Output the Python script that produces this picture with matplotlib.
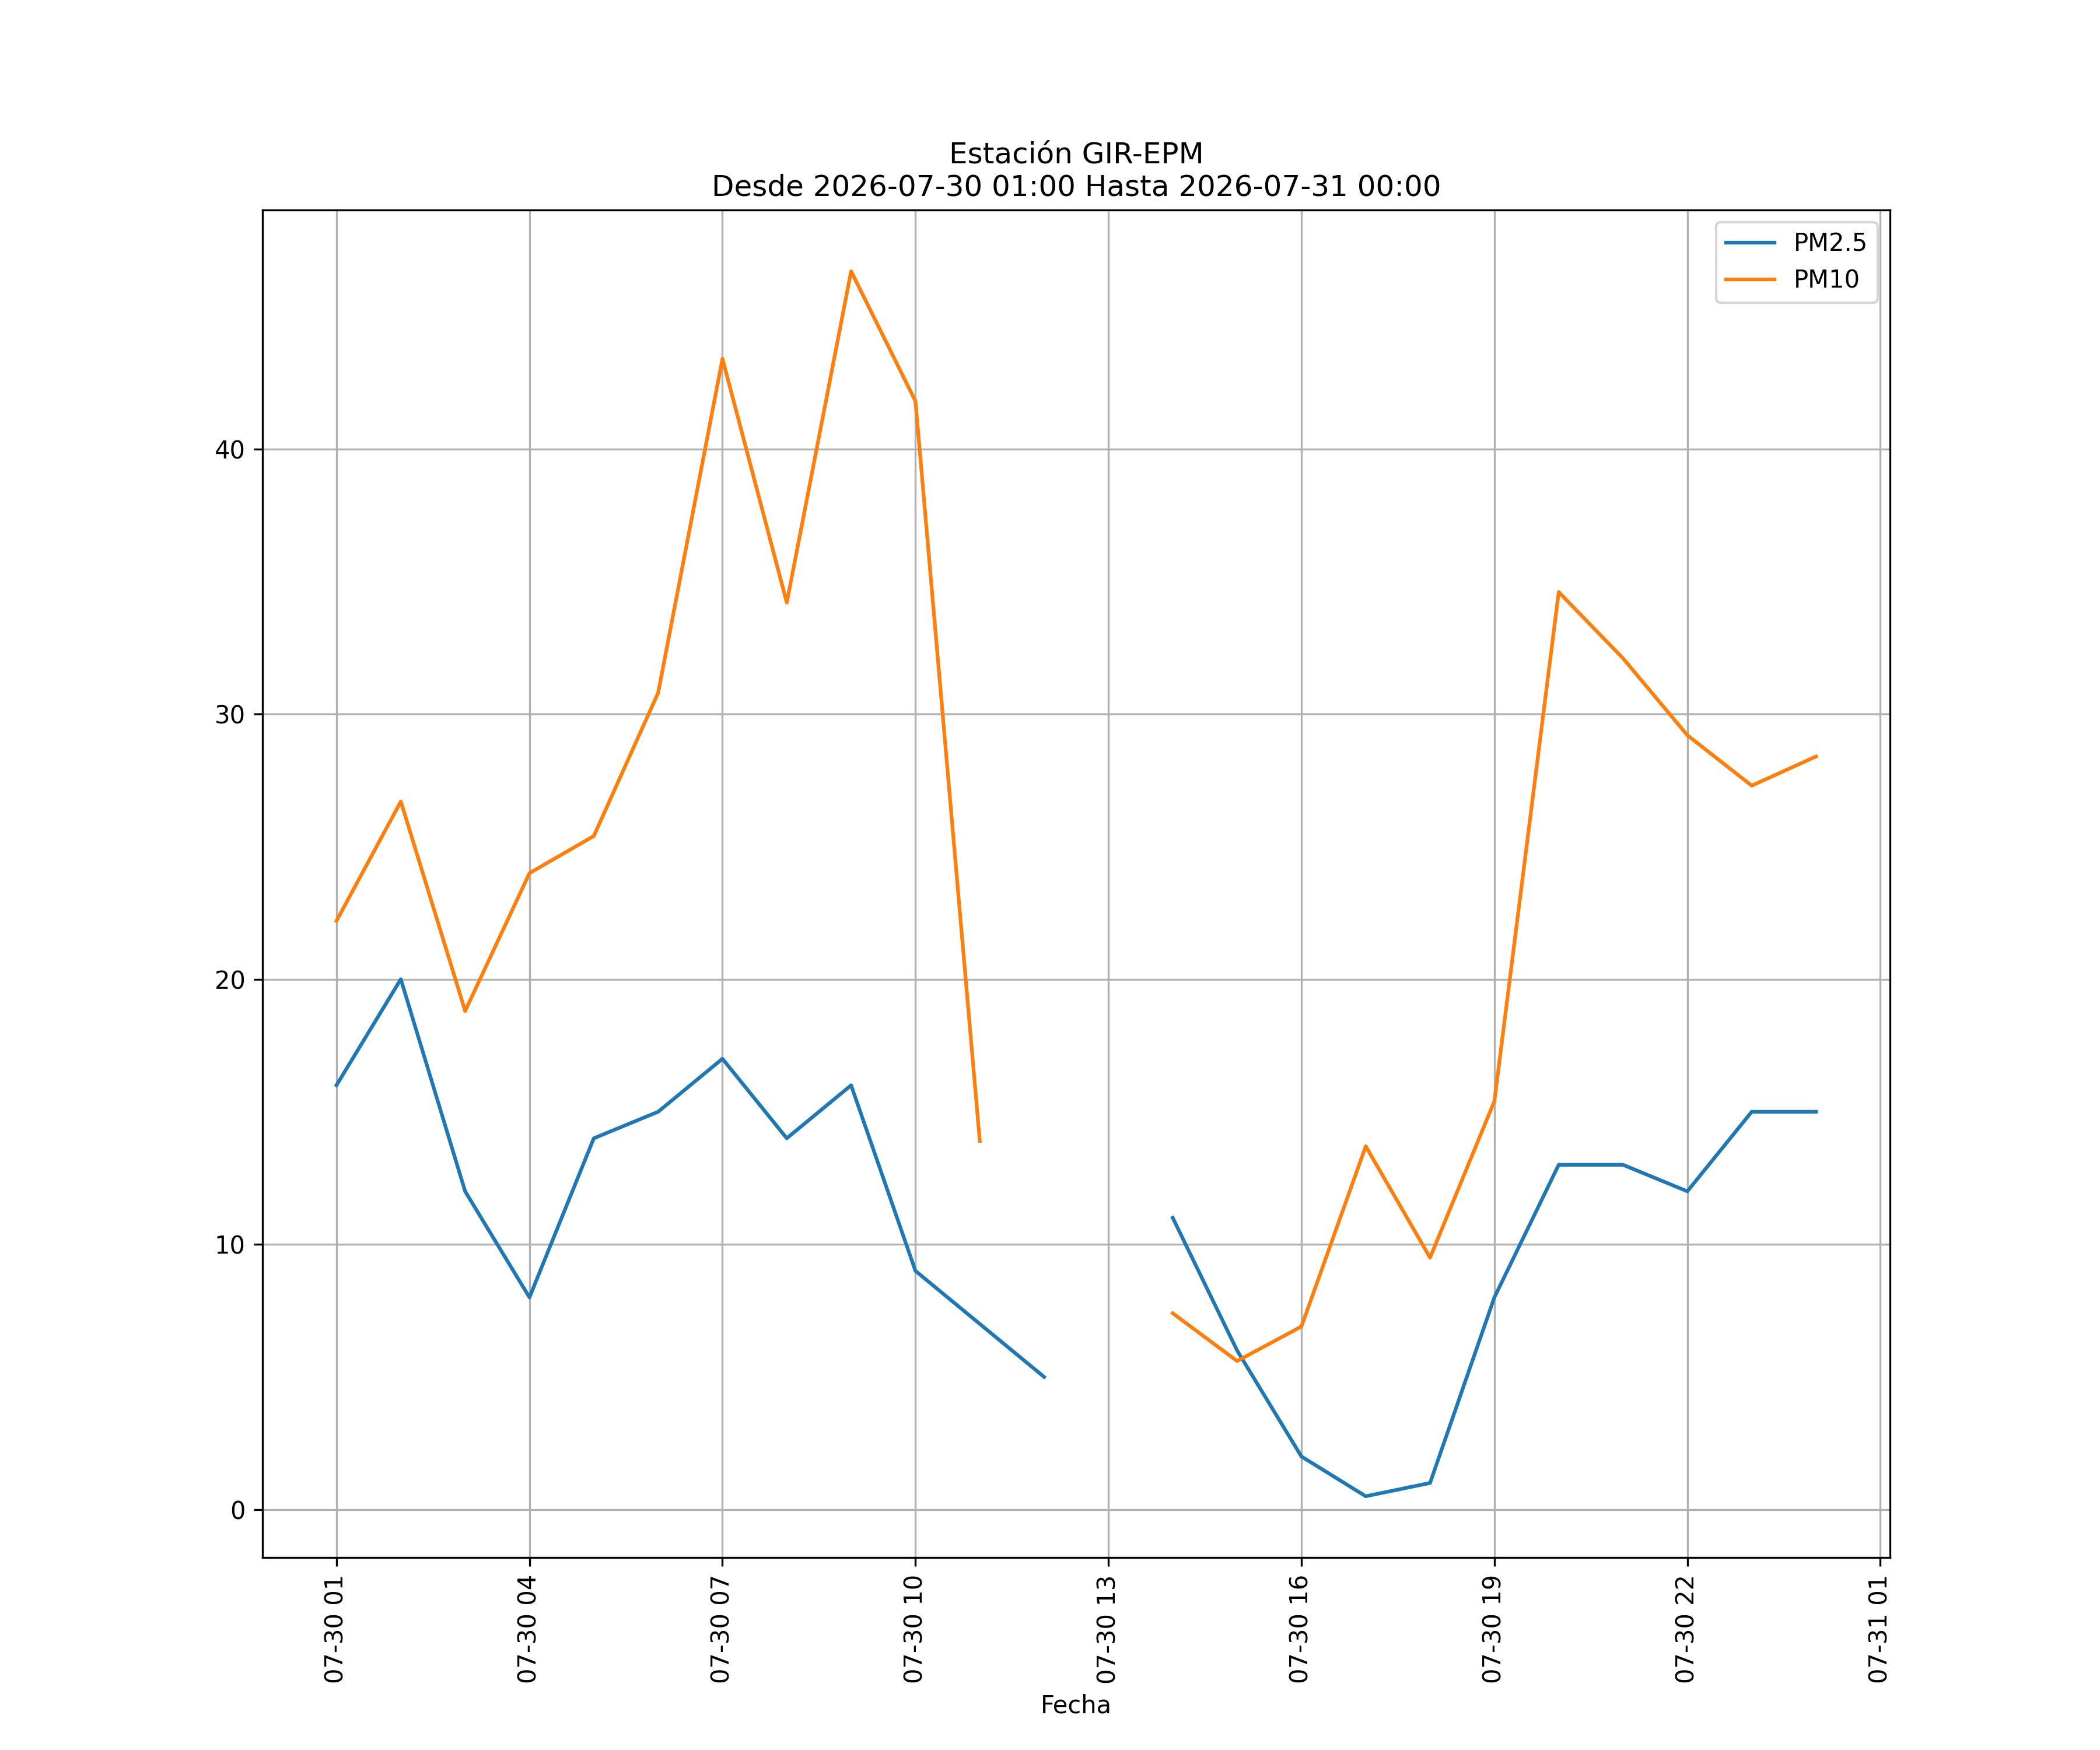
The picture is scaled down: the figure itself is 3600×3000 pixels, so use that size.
import numpy as np
import pandas as pd
import matplotlib
matplotlib.use("Agg")
import matplotlib.pyplot as plt
import matplotlib.dates as mdates

nan = np.nan
times = pd.date_range("2026-07-30 01:00", "2026-07-31 00:00", freq="h")
pm25 = [16, 20, 12, 8, 14, 15, 17, 14, 16, 9, 7, 5, nan, 11, 6, 2, 0.5, 1, 8, 13, 13, 12, 15, 15]
pm10 = [22.2, 26.7, 18.8, 24.0, 25.4, 30.8, 43.4, 34.2, 46.7, 41.8, 13.9, nan, nan,
        7.4, 5.6, 6.9, 13.7, 9.5, 15.4, 34.6, 32.1, 29.2, 27.3, 28.4]

fig, ax = plt.subplots(figsize=(12, 10))
ax.plot(times, pm25, label="PM2.5")
ax.plot(times, pm10, label="PM10")

ax.xaxis.set_major_locator(mdates.HourLocator(byhour=range(1, 24, 3)))
ax.xaxis.set_major_formatter(mdates.DateFormatter("%m-%d %H"))
plt.setp(ax.get_xticklabels(), rotation=90)
ax.set_xlabel("Fecha")
ax.set_title("Estación GIR-EPM\nDesde 2026-07-30 01:00 Hasta 2026-07-31 00:00")
ax.legend(loc="upper right")
ax.grid(True)

fig.savefig("out.png", dpi=300)
